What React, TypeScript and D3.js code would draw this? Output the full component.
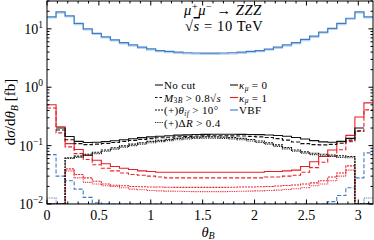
import React from "react";
import * as d3 from "d3";

// 36 bins of 5 degrees over theta_B in [0, pi]
const nBins = 36;

// VBF
const vbfNoCut = [16.1, 19.5, 16.7, 12.4, 10.0, 8.4, 7.3, 6.5, 5.8, 5.3, 4.86, 4.54, 4.25, 4.1, 3.98, 3.9, 3.86, 3.83,
  3.83, 3.86, 3.9, 3.98, 4.1, 4.25, 4.5, 4.85, 5.3, 5.8, 6.6, 7.5, 8.8, 10.2, 12.4, 15.2, 19.5, 16.1];
const vbfM3B = [0.07, 0.03, 0.025, 0.018, 0.013, 0.0105, 0.008, 0, 0, 0, 0, 0, 0, 0, 0, 0, 0, 0,
  0, 0, 0, 0, 0, 0, 0, 0, 0, 0, 0, 0, 0.008, 0.011, 0.014, 0.019, 0.028, 0.075];
const vbfDR = [0.0127, 0, 0, 0, 0, 0, 0, 0, 0, 0, 0, 0, 0, 0, 0, 0, 0, 0,
  0, 0, 0, 0, 0, 0, 0, 0, 0, 0, 0, 0, 0, 0, 0, 0, 0, 0.0127];

// kappa_mu = 0
const k0NoCut = [null, 0.2, 0.143, 0.118, 0.113, 0.114, 0.117, 0.121, 0.126, 0.131, 0.137, 0.141, 0.145, 0.148, 0.151, 0.153, 0.155, 0.156,
  0.157, 0.157, 0.157, 0.156, 0.155, 0.154, 0.152, 0.149, 0.145, 0.138, 0.13, 0.122, 0.116, 0.114, 0.118, 0.133, 0.2, null];
const k0M3B = [null, 0.185, 0.126, 0.108, 0.104, 0.106, 0.109, 0.113, 0.118, 0.123, 0.128, 0.132, 0.136, 0.139, 0.142, 0.144, 0.146, 0.147,
  0.148, 0.148, 0.147, 0.146, 0.144, 0.141, 0.138, 0.132, 0.124, 0.115, 0.108, 0.104, 0.103, 0.105, 0.11, 0.124, 0.18, null];
const k0Theta = [0, 0, 0.062, 0.066, 0.071, 0.077, 0.084, 0.092, 0.099, 0.106, 0.112, 0.118, 0.123, 0.128, 0.133, 0.137, 0.14, 0.141,
  0.141, 0.14, 0.137, 0.133, 0.127, 0.12, 0.112, 0.103, 0.093, 0.084, 0.078, 0.074, 0.071, 0.069, 0.067, 0.065, 0, 0];
const k0DR = [0, 0, 0.06, 0.063, 0.068, 0.073, 0.08, 0.087, 0.094, 0.1, 0.106, 0.112, 0.117, 0.122, 0.126, 0.13, 0.133, 0.134,
  0.134, 0.133, 0.13, 0.126, 0.12, 0.113, 0.106, 0.097, 0.088, 0.08, 0.074, 0.07, 0.067, 0.065, 0.063, 0.062, 0, 0];

// kappa_mu = 1
const k1NoCut = [0.5, 0.21, 0.108, 0.086, 0.068, 0.056, 0.049, 0.044, 0.041, 0.039, 0.037, 0.036, 0.035, 0.035, 0.035, 0.035, 0.035, 0.035,
  0.035, 0.035, 0.035, 0.035, 0.035, 0.035, 0.036, 0.036, 0.037, 0.038, 0.044, 0.053, 0.065, 0.084, 0.117, 0.15, 0.31, 0.54];
const k1M3B = [0.44, 0.165, 0.095, 0.073, 0.058, 0.047, 0.041, 0.037, 0.034, 0.032, 0.031, 0.03, 0.029, 0.028, 0.028, 0.028, 0.028, 0.028,
  0.028, 0.028, 0.028, 0.028, 0.028, 0.028, 0.029, 0.029, 0.03, 0.031, 0.035, 0.042, 0.052, 0.066, 0.085, 0.117, 0.175, 0.41];
const k1Theta = [0, 0, 0.04, 0.032, 0.028, 0.0245, 0.022, 0.021, 0.0205, 0.02, 0.0198, 0.0196, 0.0195, 0.0194, 0.0193, 0.0193, 0.0193, 0.0193,
  0.0193, 0.0193, 0.0194, 0.0195, 0.0196, 0.0198, 0.02, 0.0203, 0.0207, 0.0212, 0.022, 0.023, 0.025, 0.029, 0.034, 0.045, 0, 0];
const k1DR = [0, 0, 0.037, 0.028, 0.0235, 0.022, 0.0205, 0.02, 0.019, 0.018, 0.0175, 0.017, 0.0168, 0.0166, 0.0165, 0.0164, 0.0163, 0.0163,
  0.0163, 0.0163, 0.0164, 0.0165, 0.0166, 0.0168, 0.017, 0.0173, 0.0177, 0.0182, 0.019, 0.0205, 0.022, 0.025, 0.03, 0.038, 0, 0];

const xTicks = [0, 0.5, 1, 1.5, 2, 2.5, 3];
const xTickLabels = ["0", "0.5", "1", "1.5", "2", "2.5", "3"];
const yDecades = [1e-2, 1e-1, 1, 10];
const yExponents = ["−2", "−1", "0", "1"];

const black = "#111111";
const red = "#e8202a";
const blue = "#3d7cc4";
const font = "'Liberation Serif', 'DejaVu Serif', serif";

const dashed = "4,2";
const dense = "2,1";
const dotted = "0.9,0.9";

const series = [
  { values: vbfDR, color: blue, dash: dotted },
  { values: vbfM3B, color: blue, dash: dashed },
  { values: k1DR, color: red, dash: dotted },
  { values: k1Theta, color: red, dash: dense },
  { values: k1M3B, color: red, dash: dashed },
  { values: k1NoCut, color: red, dash: null },
  { values: k0DR, color: black, dash: dotted },
  { values: k0Theta, color: black, dash: dense },
  { values: k0M3B, color: black, dash: dashed },
  { values: k0NoCut, color: black, dash: null },
];

export default function App() {
  const left = 47, right = 373, top = 1, bottom = 204;
  const x = d3.scaleLinear().domain([0, Math.PI]).range([left, right]);
  const y = d3.scaleLog().domain([0.01, 30]).range([bottom, top]).clamp(true);
  const edges = d3.range(nBins + 1).map((i) => (i * Math.PI) / nBins);

  // step histogram outline, gaps where the value is null
  const stepPath = (vals: (number | null)[]) => {
    let d = "";
    let open = false;
    vals.forEach((v, i) => {
      if (v === null) {
        open = false;
        return;
      }
      const yy = y(Math.max(v, 1e-5));
      const x0 = x(edges[i]);
      const x1 = x(edges[i + 1]);
      d += (open ? "L" : "M") + x0 + "," + yy + "L" + x1 + "," + yy;
      open = true;
    });
    return d;
  };

  const xMinor = d3.range(0, 3.15, 0.1).filter((t) => Math.abs(t * 2 - Math.round(t * 2)) > 1e-6);
  const yMinor: number[] = [];
  [0.01, 0.1, 1, 10].forEach((dec) => {
    for (let k = 2; k <= 9; k++) if (dec * k <= 30) yMinor.push(dec * k);
  });

  const legendRows = [85, 97.5, 110, 122.5];

  return (
    <svg width={374} height={240} style={{ position: "absolute", left: 0, top: 0, background: "#fff" }} fontFamily={font}>
      <defs>
        <clipPath id="plot">
          <rect x={left} y={top} width={right - left} height={bottom - top} />
        </clipPath>
      </defs>

      <g clipPath="url(#plot)" fill="none">
        <path d={stepPath(vbfNoCut)} stroke="#b9d4ef" strokeWidth={1.3} transform="translate(0,1.1)" />
        <path d={stepPath(vbfNoCut)} stroke={blue} strokeWidth={1.2} />
        {series.map((s, i) => (
          <path key={i} d={stepPath(s.values)} stroke={s.color} strokeWidth={1.1}
            strokeDasharray={s.dash || undefined} />
        ))}
      </g>

      {/* frame and ticks */}
      <rect x={left} y={top} width={right - left} height={bottom - top} fill="none" stroke="#000" strokeWidth={1} />
      {xTicks.map((t) => (
        <g key={"xt" + t}>
          <line x1={x(t)} x2={x(t)} y1={bottom} y2={bottom - 4.5} stroke="#000" />
          <line x1={x(t)} x2={x(t)} y1={top} y2={top + 4.5} stroke="#000" />
        </g>
      ))}
      {xMinor.map((t) => (
        <g key={"xm" + t}>
          <line x1={x(t)} x2={x(t)} y1={bottom} y2={bottom - 2.5} stroke="#000" />
          <line x1={x(t)} x2={x(t)} y1={top} y2={top + 2.5} stroke="#000" />
        </g>
      ))}
      {yDecades.map((t) => (
        <g key={"yt" + t}>
          <line x1={left} x2={left + 4.5} y1={y(t)} y2={y(t)} stroke="#000" />
          <line x1={right} x2={right - 4.5} y1={y(t)} y2={y(t)} stroke="#000" />
        </g>
      ))}
      {yMinor.map((t) => (
        <g key={"ym" + t}>
          <line x1={left} x2={left + 2.5} y1={y(t)} y2={y(t)} stroke="#000" />
          <line x1={right} x2={right - 2.5} y1={y(t)} y2={y(t)} stroke="#000" />
        </g>
      ))}

      {/* tick labels */}
      {xTicks.map((t, i) => (
        <text key={"xl" + t} x={x(t)} y={220} textAnchor="middle" fontSize={14}>{xTickLabels[i]}</text>
      ))}
      {yDecades.map((t, i) => (
        <text key={"yl" + t} x={43} y={y(t) + 5} textAnchor="end" fontSize={14}>
          10<tspan dy={-6} fontSize={9.5}>{yExponents[i]}</tspan>
        </text>
      ))}

      {/* axis labels */}
      <text x={208} y={236.5} textAnchor="middle" fontSize={14.5}>
        <tspan fontStyle="italic">θ</tspan><tspan dy={2.5} fontSize={10} fontStyle="italic">B</tspan>
      </text>
      <text transform="translate(15,112) rotate(-90)" textAnchor="middle" fontSize={15}>
        d<tspan fontStyle="italic">σ</tspan>/d<tspan fontStyle="italic">θ</tspan>
        <tspan dy={3} fontSize={10} fontStyle="italic">B</tspan>
        <tspan dy={-3}> [fb]</tspan>
      </text>

      {/* process title */}
      <text x={184} y={14.5} fontSize={14.5} letterSpacing={0.6}>
        <tspan fontStyle="italic">μ</tspan><tspan dy={-5} fontSize={10}>+</tspan>
        <tspan dy={5} fontStyle="italic">μ</tspan><tspan dy={-5} fontSize={10}>−</tspan>
        <tspan dy={5}> → </tspan><tspan fontStyle="italic">ZZZ</tspan>
      </text>
      <text x={185} y={31} fontSize={14.5} letterSpacing={0.6}>
        √<tspan fontStyle="italic" textDecoration="overline">s</tspan> = 10 TeV
      </text>

      {/* legend, left column: cuts */}
      <g fontSize={11} letterSpacing={0.35}>
        <line x1={155} x2={163} y1={legendRows[0]} y2={legendRows[0]} stroke={black} strokeWidth={1.1} />
        <text x={164} y={legendRows[0] + 4}>No cut</text>

        <line x1={155} x2={163} y1={legendRows[1]} y2={legendRows[1]} stroke={black} strokeWidth={1.1} strokeDasharray="2.5,2" />
        <text x={164} y={legendRows[1] + 4}>
          <tspan fontStyle="italic">M</tspan><tspan dy={1.5} fontSize={7.5}>3</tspan><tspan fontSize={7.5} fontStyle="italic">B</tspan>
          <tspan dy={-1.5}> &gt; 0.8√</tspan><tspan fontStyle="italic">s</tspan>
        </text>

        <line x1={155} x2={163} y1={legendRows[2]} y2={legendRows[2]} stroke={black} strokeWidth={1.1} strokeDasharray={dense} />
        <text x={164} y={legendRows[2] + 4}>
          (+)<tspan fontStyle="italic">θ</tspan><tspan dy={1.5} fontSize={7.5} fontStyle="italic">if</tspan>
          <tspan dy={-1.5}> &gt; 10°</tspan>
        </text>

        <line x1={155} x2={163} y1={legendRows[3]} y2={legendRows[3]} stroke={black} strokeWidth={1.1} strokeDasharray={dotted} />
        <text x={164} y={legendRows[3] + 4}>
          (+)Δ<tspan fontStyle="italic">R</tspan> &gt; 0.4
        </text>

        {/* right column: models */}
        <line x1={230} x2={238} y1={legendRows[0]} y2={legendRows[0]} stroke={black} strokeWidth={1.1} />
        <text x={239} y={legendRows[0] + 4}>
          <tspan fontStyle="italic">κ</tspan><tspan dy={1.5} fontSize={7.5} fontStyle="italic">μ</tspan>
          <tspan dy={-1.5}> = 0</tspan>
        </text>
        <line x1={230} x2={238} y1={legendRows[1]} y2={legendRows[1]} stroke={red} strokeWidth={1.1} />
        <text x={239} y={legendRows[1] + 4}>
          <tspan fontStyle="italic">κ</tspan><tspan dy={1.5} fontSize={7.5} fontStyle="italic">μ</tspan>
          <tspan dy={-1.5}> = 1</tspan>
        </text>
        <line x1={230} x2={238} y1={legendRows[2]} y2={legendRows[2]} stroke={blue} strokeWidth={1.1} />
        <text x={239} y={legendRows[2] + 4}>VBF</text>
      </g>
    </svg>
  );
}
